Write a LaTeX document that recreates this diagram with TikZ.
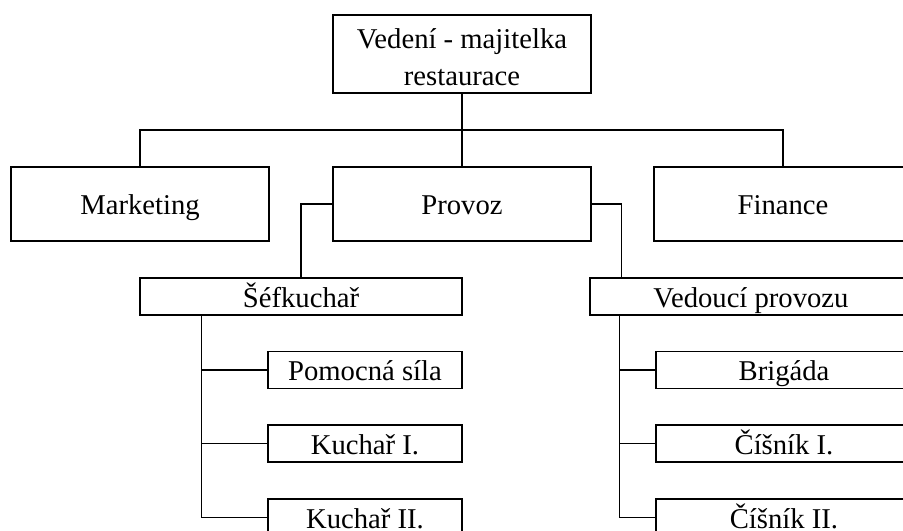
\documentclass[tikz,border=0pt]{standalone}
\usepackage{fontspec}
\setmainfont{Liberation Serif}
\begin{document}
\begin{tikzpicture}[
    x=0.75pt, y=-0.75pt,
    every node/.style={font=\fontsize{21.5}{27.75}\selectfont},
    box/.style={draw, line width=0.8pt, inner sep=0pt, minimum height=27.75pt},
    jeden/.style={text height=16pt, text depth=0pt},
    velky/.style={box, jeden, minimum width=193.5pt, minimum height=55.5pt},
    spoj/.style={line width=0.8pt},
  ]
    \def\px{0.75pt}                       % 1 px reference
    % okraje obrázku
    \useasboundingbox (0,0) rectangle (903,531);

    % vedení
    \node[box, align=center, minimum width=258*\px, minimum height=78*\px] (vedeni) at (462,54)
      {\rule{0pt}{20pt}Vedení - majitelka\\restaurace};

    % úseky
    \node[velky] (marketing) at (140,204) {Marketing};
    \node[velky] (provoz)    at (462,204) {Provoz};
    \node[velky] (finance)   at (783,204) {Finance};

    % vedoucí pracovníci
    \node[box, jeden, minimum width=322*\px] (sef)     at (301,296.5) {Šéfkuchař};
    \node[box, jeden, minimum width=322*\px] (vedouci) at (751,296.5) {Vedoucí provozu};

    % kuchyně
    \node[box, jeden, minimum width=194*\px] (pomocna) at (365,370)   {Pomocná síla};
    \node[box, jeden, minimum width=194*\px] (kuchar1) at (365,443.5) {Kuchař I.};
    \node[box, jeden, minimum width=194*\px] (kuchar2) at (365,517.5) {Kuchař II.};

    % obsluha
    \node[box, jeden, minimum width=256*\px] (brigada) at (784,370)   {Brigáda};
    \node[box, jeden, minimum width=256*\px] (cisnik1) at (784,443.5) {Číšník I.};
    \node[box, jeden, minimum width=256*\px] (cisnik2) at (784,517.5) {Číšník II.};

    % spoje shora
    \coordinate (sbernice) at (462,130);
    \draw[spoj] (vedeni.south) -- (provoz.north);
    \draw[spoj] (marketing.north) |- (sbernice) -| (finance.north);

    % spoje od provozu
    \draw[spoj] (provoz.west) -| (sef.north);
    \draw[spoj] (provoz.east) -| ([xshift=24pt]vedouci.north west);

    % levá a pravá páteř
    \coordinate (levakost)  at ([xshift=46.5pt]sef.south west);
    \coordinate (pravakost) at ([xshift=22.5pt]vedouci.south west);
    \draw[spoj] (levakost) -- (levakost |- kuchar2.west);
    \draw[spoj] (pravakost) -- (pravakost |- cisnik2.west);
    \foreach \n in {pomocna, kuchar1, kuchar2}
      \draw[spoj] (levakost |- \n.west) -- (\n.west);
    \foreach \n in {brigada, cisnik1, cisnik2}
      \draw[spoj] (pravakost |- \n.west) -- (\n.west);
  \end{tikzpicture}
\end{document}
